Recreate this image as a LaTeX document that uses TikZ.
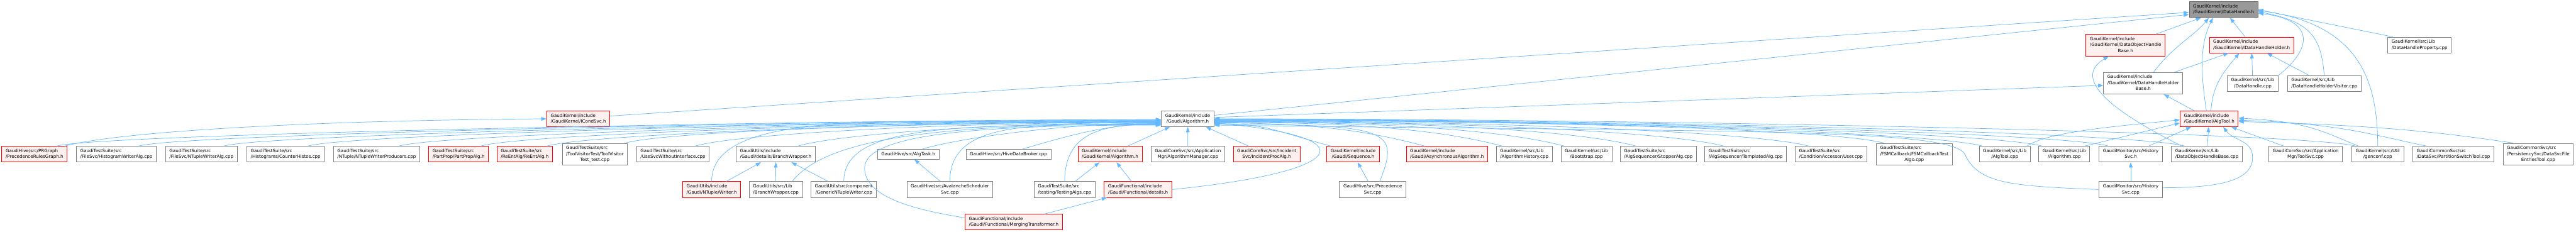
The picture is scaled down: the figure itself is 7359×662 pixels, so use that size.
\documentclass[tikz,border=0pt]{standalone}
\usepackage{fontspec}
\setmainfont{DejaVu Sans}
\usetikzlibrary{arrows.meta}
\definecolor{edgeblue}{HTML}{63B8FF}
\definecolor{boxgray}{HTML}{7F7F7F}
\definecolor{rootfill}{HTML}{999999}
\definecolor{rootline}{HTML}{666666}
\definecolor{redfill}{HTML}{FFF0F0}
\definecolor{redline}{HTML}{FF0000}
% labels: all lines left, last line centred
\newcommand{\lbli}[1]{\begin{tabular}{@{}c@{}}#1\end{tabular}}
\newcommand{\lbl}[2]{\begin{tabular}{@{}l@{}}#1\\\multicolumn{1}{@{}c@{}}{#2}\end{tabular}}
\newcommand{\lbliii}[3]{\begin{tabular}{@{}l@{}}#1\\#2\\\multicolumn{1}{@{}c@{}}{#3}\end{tabular}}
\tikzset{
  filebox/.style={draw=boxgray, fill=white, line width=1.5pt, inner xsep=11pt, inner ysep=5.5pt, font=\fontsize{12.8}{17}\selectfont},
  redbox/.style={filebox, draw=redline, fill=redfill},
  rootbox/.style={filebox, draw=rootline, fill=rootfill},
  incline/.style={draw=edgeblue, line width=1.3pt, {Triangle[length=15pt,width=10.5pt]}-},
}

\begin{document}
\begin{tikzpicture}[x=1pt, y=1pt]
\path[fill=white, use as bounding box] (0,0) rectangle (7359,-662);

% top
\node[rootbox] (dh) at (6352,-27.5) {\lbl{GaudiKernel/include}{/GaudiKernel/DataHandle.h}};
\node[redbox] (dohb) at (6072,-129) {\lbliii{GaudiKernel/include}{/GaudiKernel/DataObjectHandle}{Base.h}};
\node[redbox] (idhh) at (6432,-128.5) {\lbl{GaudiKernel/include}{/GaudiKernel/IDataHandleHolder.h}};
\node[filebox] (dhprop) at (6912,-128.5) {\lbl{GaudiKernel/src/Lib}{/DataHandleProperty.cpp}};
\node[filebox] (dhhb) at (6122.5,-238) {\lbliii{GaudiKernel/include}{/GaudiKernel/DataHandleHolder}{Base.h}};
\node[filebox] (dhcpp) at (6435.5,-238.5) {\lbl{GaudiKernel/src/Lib}{/DataHandle.cpp}};
\node[filebox] (dhhv) at (6640,-238.5) {\lbl{GaudiKernel/src/Lib}{/DataHandleHolderVisitor.cpp}};

% middle
\node[redbox] (icond) at (1652,-339.5) {\lbl{GaudiKernel/include}{/GaudiKernel/ICondSvc.h}};
\node[filebox] (alg) at (3393,-339.5) {\lbl{GaudiKernel/include}{/Gaudi/Algorithm.h}};
\node[redbox] (algtool) at (6311,-339.5) {\lbl{GaudiKernel/include}{/GaudiKernel/AlgTool.h}};

% row of users
\node[redbox] (prg) at (98.5,-440.5) {\lbl{GaudiHive/src/PRGraph}{/PrecedenceRulesGraph.h}};
\node[filebox] (hwa) at (332.5,-440.5) {\lbl{GaudiTestSuite/src}{/FileSvc/HistogramWriterAlg.cpp}};
\node[filebox] (nwa) at (575.5,-440.5) {\lbl{GaudiTestSuite/src}{/FileSvc/NTupleWriterAlg.cpp}};
\node[filebox] (chist) at (816,-440.5) {\lbl{GaudiTestSuite/src}{/Histograms/CounterHistos.cpp}};
\node[filebox] (nwp) at (1076,-440.5) {\lbl{GaudiTestSuite/src}{/NTuple/NTupleWriterProducers.cpp}};
\node[redbox] (ppa) at (1310,-440.5) {\lbl{GaudiTestSuite/src}{/PartProp/PartPropAlg.h}};
\node[redbox] (rea) at (1499,-440.5) {\lbl{GaudiTestSuite/src}{/ReEntAlg/ReEntAlg.h}};
\node[filebox] (tvt) at (1699.5,-440.5) {\lbliii{GaudiTestSuite/src}{/ToolVisitorTest/ToolVisitor}{Test\_test.cpp}};
\node[filebox] (usw) at (1922.5,-440.5) {\lbl{GaudiTestSuite/src}{/UseSvcWithoutInterface.cpp}};
\node[filebox] (bwh) at (2216,-440.5) {\lbl{GaudiUtils/include}{/Gaudi/details/BranchWrapper.h}};
\node[filebox] (algtask) at (2594.5,-440.5) {\lbli{GaudiHive/src/AlgTask.h}};
\node[filebox] (hdb) at (2881,-440.5) {\lbli{GaudiHive/src/HiveDataBroker.cpp}};
\node[redbox] (kalg) at (3171,-440.5) {\lbl{GaudiKernel/include}{/GaudiKernel/Algorithm.h}};
\node[filebox] (algmgr) at (3393.5,-440.5) {\lbl{GaudiCoreSvc/src/Application}{Mgr/AlgorithmManager.cpp}};
\node[redbox] (ipa) at (3618.5,-440.5) {\lbl{GaudiCoreSvc/src/Incident}{Svc/IncidentProcAlg.h}};
\node[redbox] (seq) at (3865.5,-440.5) {\lbl{GaudiKernel/include}{/Gaudi/Sequence.h}};
\node[redbox] (async) at (4133.5,-440.5) {\lbl{GaudiKernel/include}{/Gaudi/AsynchronousAlgorithm.h}};
\node[filebox] (ahist) at (4354.5,-440.5) {\lbl{GaudiKernel/src/Lib}{/AlgorithmHistory.cpp}};
\node[filebox] (boot) at (4532,-440.5) {\lbl{GaudiKernel/src/Lib}{/Bootstrap.cpp}};
\node[filebox] (stop) at (4737.5,-440.5) {\lbl{GaudiTestSuite/src}{/AlgSequencer/StopperAlg.cpp}};
\node[filebox] (templ) at (4987,-440.5) {\lbl{GaudiTestSuite/src}{/AlgSequencer/TemplatedAlg.cpp}};
\node[filebox] (user) at (5230.5,-440.5) {\lbl{GaudiTestSuite/src}{/ConditionAccessor/User.cpp}};
\node[filebox] (fsm) at (5468.5,-440.5) {\lbliii{GaudiTestSuite/src}{/FSMCallback/FSMCallbackTest}{Algo.cpp}};
\node[filebox] (atcpp) at (5727,-440.5) {\lbl{GaudiKernel/src/Lib}{/AlgTool.cpp}};
\node[filebox] (algcpp) at (5897,-440.5) {\lbl{GaudiKernel/src/Lib}{/Algorithm.cpp}};
\node[filebox] (hsvch) at (6087,-440.5) {\lbl{GaudiMonitor/src/History}{Svc.h}};
\node[filebox] (dohbcpp) at (6304.5,-440.5) {\lbl{GaudiKernel/src/Lib}{/DataObjectHandleBase.cpp}};
\node[filebox] (toolsvc) at (6586.5,-440.5) {\lbl{GaudiCoreSvc/src/Application}{Mgr/ToolSvc.cpp}};
\node[filebox] (genconf) at (6792.5,-440.5) {\lbl{GaudiKernel/src/Util}{/genconf.cpp}};
\node[filebox] (pst) at (7008.5,-440.5) {\lbl{GaudiCommonSvc/src}{/DataSvc/PartitionSwitchTool.cpp}};
\node[filebox] (dsfe) at (7251,-440.5) {\lbliii{GaudiCommonSvc/src}{/PersistencySvc/DataSvcFile}{EntriesTool.cpp}};

% lower rows
\node[redbox] (writer) at (2033,-541.5) {\lbl{GaudiUtils/include}{/Gaudi/NTuple/Writer.h}};
\node[filebox] (bwcpp) at (2216.5,-541.5) {\lbl{GaudiUtils/src/Lib}{/BranchWrapper.cpp}};
\node[filebox] (gntw) at (2410.5,-541.5) {\lbl{GaudiUtils/src/component}{/GenericNTupleWriter.cpp}};
\node[filebox] (avsch) at (2713.5,-541.5) {\lbl{GaudiHive/src/AvalancheScheduler}{Svc.cpp}};
\node[filebox] (testalg) at (3041.5,-541.5) {\lbl{GaudiTestSuite/src}{/testing/TestingAlgs.cpp}};
\node[redbox] (fdet) at (3251,-541.5) {\lbl{GaudiFunctional/include}{/Gaudi/Functional/details.h}};
\node[filebox] (precsvc) at (3921.5,-541.5) {\lbl{GaudiHive/src/Precedence}{Svc.cpp}};
\node[filebox] (hsvccpp) at (6087,-541.5) {\lbl{GaudiMonitor/src/History}{Svc.cpp}};
\node[redbox] (merge) at (2896,-634.5) {\lbl{GaudiFunctional/include}{/Gaudi/Functional/MergingTransformer.h}};

\coordinate (mbend) at (2470,-480);
\coordinate (hbend) at (5615,-445);
\coordinate (tbend) at (6435,-450);

% into DataHandle.h
\draw[incline] ([yshift=-8]dh.west) -- ([yshift=8]icond.east);
\draw[incline] ([yshift=-14]dh.west) -- ([yshift=10]alg.east);
\draw[incline] (dh) -- (dohb);
\draw[incline] (dh) -- (idhh);
\draw[incline] ([xshift=-42]dh.south) .. controls +(-40,-50) and +(50,70) .. ([xshift=30]dhhb.north);
\draw[incline] ([xshift=-30]dh.south) .. controls +(-40,-80) and +(-15,100) .. ([xshift=-8]algtool.north);
\draw[incline] (dh.east) -- ([xshift=15]dhprop.north west);
\draw[incline] ([yshift=-10]dh.east) .. controls +(160,-20) and +(100,80) .. (dhcpp.north east);
\draw[incline] ([yshift=-6]dh.east) .. controls +(160,-30) and +(-10,100) .. (dhhv.north);
\draw[incline] ([yshift=-2]dh.east) .. controls +(280,-40) and +(0,200) .. (genconf.north);

% second level
\draw[incline] (idhh) -- (dhhb);
\draw[incline] (idhh) -- (dhcpp);
\draw[incline] (idhh) -- (dhhv);
\draw[incline] ([xshift=-35]idhh.south) .. controls +(-50,-60) and +(5,70) .. ([xshift=5]algtool.north);
\draw[incline] ([yshift=-6]dhhb.west) -- ([yshift=4]alg.east);
\draw[incline] (dhhb) -- (algtool);
\draw[incline] ([xshift=-48]dohb.south) .. controls +(-100,-60) and +(-220,110) .. ([xshift=30]dohbcpp.north west);

% ICondSvc.h
\draw[incline] (icond.west) .. controls +(-700,-5) and +(150,40) .. (prg.15);

% into Gaudi/Algorithm.h from the left
\foreach \nd/\dy/\kk in {prg/2/900, hwa/3/900, nwa/4/800, chist/5/800, nwp/6/700, ppa/7/700, rea/8/650, tvt/9/600, usw/10/600, bwh/11/450, algtask/12/250, hdb/14/150}
  \draw[incline] ([yshift=-\dy]alg.west) .. controls +(-\kk,0) and +(120,35) .. (\nd.20);
\draw[incline] ([yshift=-13]alg.west) .. controls +(-700,0) and +(0,220) .. (writer.north);
\draw[incline] ([yshift=-15]alg.west) .. controls +(-600,0) and +(100,130) .. ([xshift=-30]bwcpp.north east);
\draw[incline] ([yshift=-16]alg.west) .. controls +(-600,0) and +(0,160) .. (gntw.north);
\draw[incline] ([yshift=-17]alg.west) .. controls +(-350,0) and +(0,180) .. (avsch.north);
\draw[incline] ([yshift=-16]alg.west) .. controls +(-150,0) and +(0,150) .. (testalg.north);
\draw[incline] ([yshift=-18]alg.west) .. controls +(-500,0) and +(0,100) .. (mbend) .. controls +(0,-90) and +(-120,20) .. ([yshift=12]merge.west);

% into Gaudi/Algorithm.h from below and the right
\draw[incline] (alg) -- (kalg);
\draw[incline] (alg) -- (algmgr);
\draw[incline] (alg) -- (ipa);
\foreach \nd/\dy/\kk in {seq/14/150, async/12/300, ahist/10/450, boot/9/550, stop/8/650, templ/7/700, user/6/800, fsm/5/900, atcpp/4/1000, algcpp/3/1000, hsvch/2/1000, dohbcpp/1/1100, genconf/0/1200}
  \draw[incline] ([yshift=-\dy]alg.east) .. controls +(\kk,0) and +(-150,40) .. (\nd.160);
\draw[incline] ([yshift=-12]alg.east) .. controls +(450,-40) and +(500,50) .. (fdet.east);
\draw[incline] ([yshift=-16]alg.east) .. controls +(500,0) and +(60,150) .. ([xshift=20]precsvc.north);
\draw[incline] ([yshift=-18]alg.east) .. controls +(1500,-20) and +(-20,80) .. (hbend) .. controls +(40,-80) and +(-250,10) .. (hsvccpp.west);

% into AlgTool.h
\draw[incline] ([yshift=-3]algtool.west) .. controls +(-200,-20) and +(60,40) .. ([xshift=-10]atcpp.north east);
\draw[incline] ([yshift=-12]algtool.west) -- ([xshift=-15]algcpp.north east);
\draw[incline] (algtool) -- (hsvch);
\draw[incline] (algtool) -- (dohbcpp);
\draw[incline] (algtool) -- (toolsvc);
\draw[incline] ([xshift=40]algtool.south) .. controls +(30,-40) and +(0,50) .. (tbend) .. controls +(0,-70) and +(150,0) .. ([yshift=5]hsvccpp.east);
\draw[incline] ([yshift=2]algtool.east) .. controls +(200,-10) and +(-100,40) .. ([xshift=20]genconf.north west);
\draw[incline] ([yshift=-4]algtool.east) .. controls +(300,-10) and +(-150,30) .. ([xshift=40]pst.north west);
\draw[incline] ([yshift=-8]algtool.east) .. controls +(400,-10) and +(-200,30) .. ([xshift=30]dsfe.north west);

% local links
\draw[incline] (bwh) -- (writer);
\draw[incline] (bwh) -- (bwcpp);
\draw[incline] (bwh) -- (gntw);
\draw[incline] (algtask) -- (avsch);
\draw[incline] (kalg) -- (testalg);
\draw[incline] (kalg) -- (fdet);
\draw[incline] (fdet) -- (merge);
\draw[incline] (seq) -- (precsvc);
\draw[incline] (hsvch) -- (hsvccpp);
\end{tikzpicture}
\end{document}
